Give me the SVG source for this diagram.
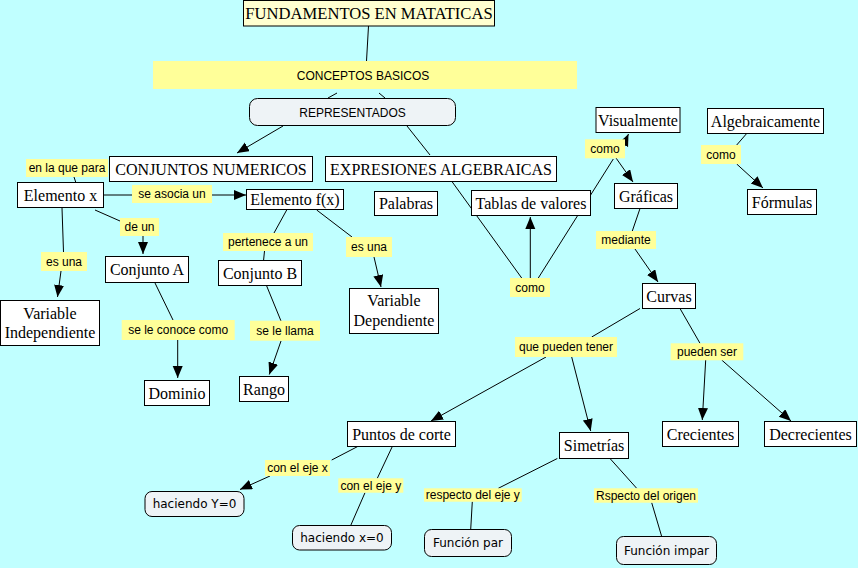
<svg xmlns="http://www.w3.org/2000/svg" width="858" height="568" viewBox="0 0 858 568">
<defs>
<style>
.bg{fill:#C0FFFF}
.box{fill:#FFFFFF;stroke:#000;stroke-width:1}
.title{fill:#FFFFD0;stroke:#000;stroke-width:1}
.rbox{fill:#EEF3F6;stroke:#000;stroke-width:1}
.lab{fill:#FFFF99}
.s{font-family:"Liberation Serif","Times New Roman",serif;font-size:16px;fill:#000;text-anchor:middle}
.t{font-family:"Liberation Serif","Times New Roman",serif;font-size:16.6px;fill:#000;text-anchor:middle}
.a{font-family:"Liberation Sans",Arial,sans-serif;font-size:12px;fill:#000;text-anchor:middle}
.d{font-family:"DejaVu Sans",Verdana,sans-serif;font-size:12px;fill:#000;text-anchor:middle}
.c path{fill:none;stroke:#000;stroke-width:1}
.c path.ar{marker-end:url(#ah)}
</style>
<marker id="ah" markerUnits="userSpaceOnUse" markerWidth="13" markerHeight="11" refX="12" refY="5" orient="auto" viewBox="0 0 13 11">
<path d="M0,0 L12,5 L0,10 z" fill="#000"/>
</marker>
</defs>
<rect class="bg" x="0" y="0" width="858" height="568"/>

<g id="connectors" class="c">
<path d="M368.5,26 L366.5,61"/>
<path d="M337,93 L328,98"/>
<path d="M379,93 L385,98"/>
<path class="ar" d="M283,126 L237,153"/>
<path d="M407,126 L430,155"/>
<path d="M74,177 L76,183"/>
<path d="M103.5,195 L132,195"/>
<path class="ar" d="M212,195 L246,195"/>
<path d="M95,210 L120,221"/>
<path class="ar" d="M143,236 L143,254"/>
<path d="M62,208 L63.5,252"/>
<path class="ar" d="M61,271 L57.5,297"/>
<path d="M286.7,210 L274,233"/>
<path d="M264.5,251 L263.5,261"/>
<path d="M316.7,210 L352,237"/>
<path class="ar" d="M374,257 L381,287"/>
<path d="M155,283 L173,320"/>
<path class="ar" d="M177.7,340 L177.7,378"/>
<path d="M266.7,286 L281,321"/>
<path class="ar" d="M281,341 L269.3,374.5"/>
<path d="M452.3,182 L521.7,278"/>
<path class="ar" d="M530.3,278 L530.3,217"/>
<path d="M538.3,278 L613.3,159"/>
<path class="ar" d="M623,146 L628.5,134"/>
<path class="ar" d="M616,158 L633,182"/>
<path d="M640,208.5 L632.3,231"/>
<path class="ar" d="M635,249 L658,282"/>
<path d="M746.7,133.5 L736.7,145"/>
<path class="ar" d="M736.7,164 L763,188"/>
<path d="M640,308.5 L591.7,337"/>
<path class="ar" d="M546,357 L431,421"/>
<path class="ar" d="M571.7,357 L590.7,431"/>
<path d="M680,308.5 L700,343.3"/>
<path class="ar" d="M705.7,360 L702.3,420"/>
<path class="ar" d="M721.7,360 L791,421"/>
<path d="M357.7,446.5 L331.7,460"/>
<path class="ar" d="M270,476 L240,489.5"/>
<path d="M392.3,446.5 L377.3,478.3"/>
<path d="M365,492.7 L350.7,525.5"/>
<path d="M557.3,458.5 L498.3,488.3"/>
<path d="M472.3,501.7 L470.7,529.5"/>
<path d="M610,458.5 L636.7,488.3"/>
<path d="M651.7,502.7 L661.7,536.5"/>
</g>

<g id="n-fundamentos"><rect class="title" x="243.5" y="0.5" width="251" height="25.5"/><text class="t" x="369" y="18.8">FUNDAMENTOS EN MATATICAS</text></g>
<g id="n-conceptos"><rect class="lab" x="153" y="61" width="424" height="28"/><text class="a" x="363" y="79.5">CONCEPTOS BASICOS</text></g>
<g id="n-representados"><rect class="rbox" x="249.5" y="98.5" width="206" height="27" rx="8"/><text class="a" x="352.5" y="116.5">REPRESENTADOS</text></g>
<g id="n-conjuntos"><rect class="box" x="109.5" y="156.5" width="203" height="25"/><text class="s" x="211" y="174.7">CONJUNTOS NUMERICOS</text></g>
<g id="n-expresiones"><rect class="box" x="325.5" y="156.5" width="231" height="25"/><text class="s" x="441" y="174.7">EXPRESIONES ALGEBRAICAS</text></g>
<g id="l-enlaque"><rect class="lab" x="26" y="159" width="82" height="18"/><text class="a" x="67" y="172.3">en la que para</text></g>
<g id="n-elementox"><rect class="box" x="17.5" y="182.5" width="86" height="25"/><text class="s" x="60.5" y="200.7">Elemento x</text></g>
<g id="l-seasocia"><rect class="lab" x="132" y="185" width="80" height="18"/><text class="a" x="172" y="198.3">se asocia un</text></g>
<g id="n-elementofx"><rect class="box" x="246.5" y="189.5" width="97" height="20"/><text class="s" x="295" y="205.2">Elemento f(x)</text></g>
<g id="n-palabras"><rect class="box" x="374.5" y="191.5" width="63" height="24"/><text class="s" x="406" y="209.2">Palabras</text></g>
<g id="l-deun"><rect class="lab" x="120" y="218" width="39" height="18"/><text class="a" x="139.5" y="231.3">de un</text></g>
<g id="l-esuna1"><rect class="lab" x="41" y="252" width="46" height="19"/><text class="a" x="64" y="265.8">es una</text></g>
<g id="l-pertenece"><rect class="lab" x="223" y="233" width="90" height="18"/><text class="a" x="268" y="246.3">pertenece a un</text></g>
<g id="l-esuna2"><rect class="lab" x="346" y="237" width="46" height="20"/><text class="a" x="369" y="251.3">es una</text></g>
<g id="n-conjuntoa"><rect class="box" x="105.5" y="256.5" width="83" height="26"/><text class="s" x="147" y="275.2">Conjunto A</text></g>
<g id="n-conjuntob"><rect class="box" x="218.5" y="260.5" width="83" height="25"/><text class="s" x="260" y="278.7">Conjunto B</text></g>
<g id="n-varindep"><rect class="box" x="0.5" y="300.5" width="99" height="45"/><text class="s" x="50" y="319">Variable</text><text class="s" x="50" y="338.2">Independiente</text></g>
<g id="n-vardep"><rect class="box" x="349.5" y="288.5" width="89" height="45"/><text class="s" x="394" y="305.5">Variable</text><text class="s" x="394" y="326.2">Dependiente</text></g>
<g id="l-seleconoce"><rect class="lab" x="121.7" y="320" width="113" height="20"/><text class="a" x="178.2" y="334.3">se le conoce como</text></g>
<g id="l-selellama"><rect class="lab" x="250" y="320.7" width="70" height="20"/><text class="a" x="285" y="335">se le llama</text></g>
<g id="n-dominio"><rect class="box" x="144.5" y="380.5" width="65" height="25"/><text class="s" x="177" y="398.7">Dominio</text></g>
<g id="n-rango"><rect class="box" x="239.5" y="376.5" width="49" height="25"/><text class="s" x="264" y="394.7">Rango</text></g>

<g id="n-tablas"><rect class="box" x="471.5" y="190.5" width="119" height="25"/><text class="s" x="531" y="208.7">Tablas de valores</text></g>
<g id="l-como1"><rect class="lab" x="510" y="278" width="40" height="19"/><text class="a" x="530" y="291.8">como</text></g>
<g id="n-visualmente"><rect class="box" x="596" y="107.5" width="84" height="25"/><text class="s" x="638" y="125.7">Visualmente</text></g>
<g id="l-como2"><rect class="lab" x="585" y="139.3" width="40" height="19"/><text class="a" x="605" y="153">como</text></g>
<g id="n-graficas"><rect class="box" x="614.5" y="183.5" width="63" height="25"/><text class="s" x="646" y="201.7">Gráficas</text></g>
<g id="l-mediante"><rect class="lab" x="596" y="231" width="60" height="18"/><text class="a" x="626" y="244.3">mediante</text></g>
<g id="n-algebraicamente"><rect class="box" x="707.5" y="108.5" width="116" height="25"/><text class="s" x="765.5" y="126.7">Algebraicamente</text></g>
<g id="l-como3"><rect class="lab" x="701" y="145" width="40" height="19"/><text class="a" x="721" y="158.8">como</text></g>
<g id="n-formulas"><rect class="box" x="747.5" y="189.5" width="69" height="25"/><text class="s" x="782" y="207.7">Fórmulas</text></g>
<g id="n-curvas"><rect class="box" x="642.5" y="283.5" width="53" height="25"/><text class="s" x="669" y="301.7">Curvas</text></g>
<g id="l-quepueden"><rect class="lab" x="515" y="337" width="102" height="20"/><text class="a" x="566" y="351.3">que pueden tener</text></g>
<g id="l-puedenser"><rect class="lab" x="670.7" y="343.3" width="72.6" height="17"/><text class="a" x="707" y="356">pueden ser</text></g>
<g id="n-crecientes"><rect class="box" x="662.5" y="421.5" width="76" height="25"/><text class="s" x="700.5" y="439.7">Crecientes</text></g>
<g id="n-decrecientes"><rect class="box" x="764.5" y="421.5" width="92" height="25"/><text class="s" x="810.5" y="439.7">Decrecientes</text></g>
<g id="n-puntos"><rect class="box" x="347.5" y="421.5" width="108" height="25"/><text class="s" x="401.5" y="439.7">Puntos de corte</text></g>
<g id="n-simetrias"><rect class="box" x="559.5" y="432.5" width="69" height="26"/><text class="s" x="594" y="451.2">Simetrías</text></g>
<g id="l-ejex"><rect class="lab" x="265" y="460" width="65" height="16"/><text class="a" x="297.5" y="472.3">con el eje x</text></g>
<g id="l-ejey"><rect class="lab" x="338.3" y="478.3" width="65" height="14.4"/><text class="a" x="370.8" y="489.8">con el eje y</text></g>
<g id="l-respecto"><rect class="lab" x="424" y="488.3" width="97.7" height="13.4"/><text class="a" x="472.8" y="499.2">respecto del eje y</text></g>
<g id="l-rspecto"><rect class="lab" x="594" y="488.3" width="104" height="14.4"/><text class="a" x="646" y="499.7">Rspecto del origen</text></g>
<g id="n-haciendoy"><rect class="rbox" x="145" y="491.5" width="99" height="25" rx="7"/><text class="d" x="194.5" y="508.3">haciendo Y=0</text></g>
<g id="n-haciendox"><rect class="rbox" x="292.5" y="525.5" width="99" height="24.5" rx="7"/><text class="d" x="342" y="542.2">haciendo x=0</text></g>
<g id="n-funcionpar"><rect class="rbox" x="424.5" y="529.5" width="87" height="27" rx="7"/><text class="d" x="468" y="547.2">Función par</text></g>
<g id="n-funcionimpar"><rect class="rbox" x="616.5" y="536.5" width="100" height="28" rx="7"/><text class="d" x="666.5" y="554.7">Función impar</text></g>
</svg>
